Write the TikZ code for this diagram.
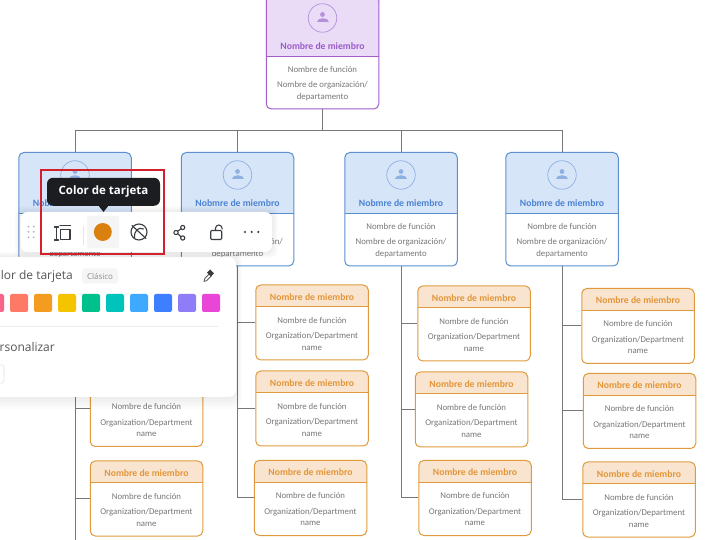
\documentclass[tikz,border=0pt]{standalone}
\usepackage{fontspec}
\setmainfont{Carlito}
\newfontfamily\uifont{Open Sans}
\definecolor{wirecol}{HTML}{777777}
\definecolor{bodycol}{HTML}{777777}
\definecolor{orangeline}{HTML}{E09A3D}
\definecolor{orangehead}{HTML}{F9E5CF}
\definecolor{orangetext}{HTML}{E3953A}
\definecolor{blueline}{HTML}{5B8FCF}
\definecolor{bluehead}{HTML}{D6E5F8}
\definecolor{bluetext}{HTML}{4B82D2}
\definecolor{blueicon}{HTML}{8FB0E2}
\definecolor{purpleline}{HTML}{A45CC9}
\definecolor{purplehead}{HTML}{EADBF6}
\definecolor{purpletext}{HTML}{9A5BCB}
\definecolor{purpleicon}{HTML}{B492DA}
\definecolor{tipblack}{HTML}{1B1D21}
\definecolor{markred}{HTML}{D2202C}
\definecolor{cardcolor}{HTML}{D9800F}
\definecolor{toolgrey}{HTML}{3A3D42}
\definecolor{paneltext}{HTML}{555555}
\definecolor{swpink}{HTML}{F9648A}
\definecolor{swsalmon}{HTML}{FF7A66}
\definecolor{sworange}{HTML}{F39C1F}
\definecolor{swyellow}{HTML}{F5C400}
\definecolor{swgreen}{HTML}{00C08B}
\definecolor{swteal}{HTML}{00C4BC}
\definecolor{swsky}{HTML}{3FA9FF}
\definecolor{swblue}{HTML}{3D7FFF}
\definecolor{swpurple}{HTML}{8F7CF7}
\definecolor{swmagenta}{HTML}{E946D8}
\newlength{\headh}
\tikzset{
  wire/.style={draw=wirecol,line width=1pt},
  cardbox/.style 2 args={draw=#1,line width=1pt,fill=white,rounded corners=5pt,inner sep=0pt,
    minimum width=112.5pt,
    path picture={
      \fill[#2,sharp corners] (path picture bounding box.north west) rectangle ([yshift=-\headh]path picture bounding box.north east);
      \draw[#1,sharp corners,line width=1pt] ([yshift=-\headh]path picture bounding box.north west) -- ([yshift=-\headh]path picture bounding box.north east);
    }},
  orangebox/.style={cardbox={orangeline}{orangehead},minimum height=75pt},
  bluebox/.style={cardbox={blueline}{bluehead},minimum height=113.5pt},
  purplebox/.style={cardbox={purpleline}{purplehead},minimum height=113.5pt},
  cardtitle/.style={inner sep=0pt,font=\fontsize{9.7}{12}\selectfont\bfseries},
  cardtext/.style={inner sep=0pt,text=bodycol,align=center,font=\fontsize{8.8}{11.7}\selectfont},
  personring/.style={circle,draw=#1,line width=.7pt,minimum size=28.5pt,inner sep=0pt},
  bar/.style={fill=white,rounded corners=7pt,inner sep=0pt},
  toolline/.style={draw=toolgrey,line width=1.1pt,line cap=round,line join=round},
  swatch/.style={minimum size=18pt,inner sep=0pt,rounded corners=2pt,fill=#1},
  uitext/.style={inner sep=0pt,font=\uifont\fontsize{12}{14}\selectfont,text=paneltext},
}
% name, centre x, top y
\newcommand{\orangecard}[3]{
  \setlength{\headh}{22pt}
  \node[orangebox] (#1) at (#2,#3+37.5) {};
  \node[cardtitle,text=orangetext] (#1t) at (#2,#3+12) {Nombre de miembro};
  \node[cardtext] (#1r) at (#2,#3+35) {Nombre de función};
  \node[cardtext] (#1o) at (#2,#3+56.5) {Organization/Department\\name};
}
% name, centre x, top y, colour word, title
\newcommand{\bigcard}[5]{
  \setlength{\headh}{61pt}
  \node[#4box] (#1) at (#2,#3+56.75) {};
  \node[personring=#4icon] (#1i) at (#2,#3+22.5) {};
  \fill[#4icon] (#2,#3+19) circle (2.4);
  \fill[#4icon] (#2-6,#3+27) .. controls (#2-6,#3+22) and (#2+6,#3+22) .. (#2+6,#3+27) -- cycle;
  \node[cardtitle,text=#4text] (#1t) at (#2,#3+51) {#5};
  \node[cardtext] (#1r) at (#2,#3+73.5) {Nombre de función};
  \node[cardtext] (#1o) at (#2,#3+95.5) {Nombre de organización/\\departamento};
}
\begin{document}
\begin{tikzpicture}[x=1pt,y=-1pt]
\useasboundingbox (0,0) rectangle (716,540);
\fill[white] (0,0) rectangle (716,540);
\bigcard{top}{322.5}{-4.5}{purple}{Nombre de miembro}
\bigcard{bluea}{75}{152.5}{blue}{Nobmre de miembro}
\bigcard{blueb}{237.5}{152.5}{blue}{Nobmre de miembro}
\bigcard{bluec}{401}{152.5}{blue}{Nobmre de miembro}
\bigcard{blued}{562}{152.5}{blue}{Nobmre de miembro}
\orangecard{oab}{146.5}{371.5}
\orangecard{oac}{146.5}{461}
\orangecard{oba}{312}{285}
\orangecard{obb}{312}{371}
\orangecard{obc}{310.5}{460.5}
\orangecard{oca}{474}{286}
\orangecard{ocb}{471.5}{372}
\orangecard{occ}{475}{460.5}
\orangecard{oda}{638}{288.5}
\orangecard{odb}{639.5}{373.5}
\orangecard{odc}{639}{462}
% connectors
\coordinate (bus) at (322.5,131);
\coordinate (trunkend) at (75,540);
\draw[wire] (top.south) -- (bus);
\draw[wire] (bus) -| (bluea.north);
\draw[wire] (bus) -| (blueb.north);
\draw[wire] (bus) -| (bluec.north);
\draw[wire] (bus) -| (blued.north);
\draw[wire] (bluea.south) -- (trunkend);
\draw[wire] (bluea.south) |- (oab.west);
\draw[wire] (bluea.south) |- (oac.west);
\draw[wire] (blueb.south) |- (oba.west);
\draw[wire] (blueb.south) |- (obb.west);
\draw[wire] (blueb.south) |- (obc.west);
\draw[wire] (bluec.south) |- (oca.west);
\draw[wire] (bluec.south) |- (ocb.west);
\draw[wire] (bluec.south) |- (occ.west);
\draw[wire] (blued.south) |- (oda.west);
\draw[wire] (blued.south) |- (odb.west);
\draw[wire] (blued.south) |- (odc.west);
% colour panel
\foreach \s in {2,4,6,8,10,12}
  \fill[black,opacity=.012,rounded corners=9pt] (-20,257-\s*.4) rectangle (236+\s*.5,397+\s);
\node[bar,minimum width=266pt,minimum height=140pt] (panel) at (103,327) {};
\node[uitext,anchor=east] (paneltitle) at (73,276) {Color de tarjeta};
\node[fill=black!4,rounded corners=3pt,minimum width=36pt,minimum height=15pt,inner sep=0pt,text=black!45,font=\uifont\fontsize{8}{9}\selectfont] (classic) at (100,276) {Clásico};
\draw[black!65,line width=.8pt,line cap=round,line join=round] (204,281.5) -- (204.8,278.5) -- (209.5,273.8) -- (211.5,275.8) -- (206.8,280.5) -- cycle;
\fill[toolgrey,rotate around={45:(211,273.5)}] (208.8,270) rectangle (213.2,275.5);
\node[swatch=swpink] (swa) at (-5,303) {};
\node[swatch=swsalmon] (swb) at (19,303) {};
\node[swatch=sworange] (swc) at (43,303) {};
\node[swatch=swyellow] (swd) at (67,303) {};
\node[swatch=swgreen] (swe) at (91,303) {};
\node[swatch=swteal] (swf) at (115,303) {};
\node[swatch=swsky] (swg) at (139,303) {};
\node[swatch=swblue] (swh) at (163,303) {};
\node[swatch=swpurple] (swi) at (187,303) {};
\node[swatch=swmagenta] (swj) at (211,303) {};
\fill[black!7] (0,326) rectangle (218,326.8);
\node[uitext,anchor=east] (customtext) at (55,346.7) {Personalizar};
\draw[black!12,fill=white,line width=.7pt,rounded corners=1.5pt] (-10,365) rectangle (4,383);
% toolbar
\foreach \s in {1,2,3,4,5,6}
  \fill[black,opacity=.012,rounded corners=8pt] (20.5-\s,212-\s) rectangle (272+\s,252+\s);
\node[bar,minimum width=251.5pt,minimum height=40pt] (toolbar) at (146.25,232) {};
\foreach \gx in {28.5,33.7}
  \foreach \gy in {226.5,231.8,237.2}
    \fill[black!25] (\gx,\gy) circle (1.1);
\fill[black!10] (82.5,226) rectangle (83.2,245);
\fill[black!4,rounded corners=2pt] (87,216) rectangle (119,248);
\node[circle,fill=cardcolor,minimum size=18pt,inner sep=0pt] (cardbtn) at (102.8,232) {};
% toolbar icons
\draw[toolline] (54.5,227) -- (58.5,227) (54.5,240) -- (58.5,240) (56.5,227) -- (56.5,240);
\draw[toolline] (60.5,229.5) rectangle (70,239.5);
\draw[toolline] (60,225.5) -- (70.5,225.5);
\draw[toolline] (139,232) circle (8);
\draw[toolline] (132,225.5) -- (146,238.5);
\draw[toolline] (134.5,238) .. controls (134,231) and (138,226.5) .. (143.5,229);
\draw[toolline] (182.7,227.5) circle (2.1) (176,232.5) circle (2.1) (182.7,238) circle (2.1);
\draw[toolline] (181,228.8) -- (177.8,231.2) (177.8,233.8) -- (181,236.7);
\draw[toolline,rounded corners=1pt] (210.7,230.5) rectangle (221.7,239.5);
\draw[toolline] (215.5,230.5) -- (215.5,228.3) arc (180:360:3.3) -- (222.1,229.2);
\fill[toolgrey] (245,232) circle (1.2) (251.7,232) circle (1.2) (258.3,232) circle (1.2);
% tooltip
\node[fill=tipblack,rounded corners=6pt,minimum width=113pt,minimum height=28pt,inner sep=0pt,text=white,font=\uifont\fontsize{11.5}{13}\selectfont\bfseries] (tooltip) at (103.5,191.8) {Color de tarjeta};
\fill[tipblack] (98,205) -- (103.5,212) -- (109,205) -- cycle;
\node[draw=markred,line width=1.8pt,minimum width=123pt,minimum height=84pt,inner sep=0pt] (marker) at (102.5,212) {};
\end{tikzpicture}
\end{document}
